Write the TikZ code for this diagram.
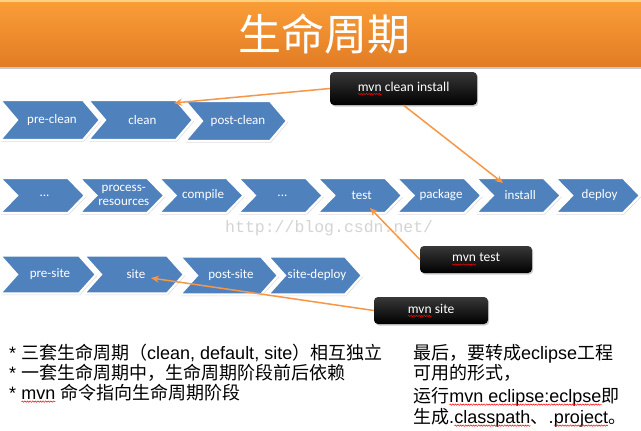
\documentclass[tikz,border=0pt]{standalone}
\usepackage{fontspec}
\setmainfont{Liberation Sans}
\newfontfamily\cjk{Noto Sans CJK SC}
\newfontfamily\calib{Carlito}
\newfontfamily\wmfont{Liberation Mono}
\usetikzlibrary{arrows.meta,shadows,decorations.pathmorphing}
\definecolor{chevblue}{HTML}{4F81BD}
\definecolor{titletop}{HTML}{FA9E38}
\definecolor{titlebot}{HTML}{E27C24}
\definecolor{titlehi}{HTML}{FFD280}
\definecolor{arrorange}{HTML}{F79646}
\newcommand\rw[1]{\tikz[baseline=(rwtxt.base),x=1pt,y=1pt]{%
  \node[inner sep=0pt,outer sep=0pt,minimum width=0pt,minimum height=0pt] (rwtxt) {#1};
  \draw[red, line width=0.5pt, solid, rounded corners=0pt, decorate,
    decoration={snake,amplitude=0.7pt,segment length=2.6pt}]
    ([yshift=-2.6pt]rwtxt.base west) -- ([yshift=-2.6pt]rwtxt.base east);}}
\tikzset{
  chevshape/.style={fill=chevblue, draw=white, line width=2.2pt, line join=miter,
    drop shadow={shadow xshift=1pt, shadow yshift=-1.5pt, opacity=0.3}},
  chevtext/.style={text=white, inner sep=0pt, align=center,
    font=\calib\fontsize{13}{13.5}\selectfont},
  callout/.style={rounded corners=4pt, top color=black!78, middle color=black, bottom color=black,
    inner sep=0pt, drop shadow={shadow xshift=1.2pt, shadow yshift=-1.5pt, opacity=0.4}},
  callouttext/.style={text=white, inner sep=0pt, font=\calib\fontsize{13.5}{14}\selectfont},
  arr/.style={draw=arrorange, line width=1.5pt, -{Stealth[length=8pt,width=7pt]}},
  btext/.style={anchor=base west, inner sep=0pt, font=\fontsize{18}{21}\selectfont}
}
\newcommand\chev[7]{%
  \path[chevshape] ({#2},{#3-#5/2}) -- ({#2+#4-#6},{#3-#5/2}) -- ({#2+#4},{#3})
    -- ({#2+#4-#6},{#3+#5/2}) -- ({#2},{#3+#5/2}) -- ({#2+#6},{#3}) -- cycle;
  \node[chevtext] (#1) at ({#2+#4/2+2},{#3}) {#7};}
\begin{document}
\begin{tikzpicture}[x=1pt,y=-1pt]
\useasboundingbox (0,0) rectangle (641,431);
\fill[white] (0,0) rectangle (641,431);
% title bar
\fill[black!22] (0,66) rectangle (641,69);
\shade[top color=titletop, bottom color=titlebot] (0,0) rectangle (641,66);
\fill[titlehi] (0,0) rectangle (641,1.5);
\node[text=white, font=\cjk\fontsize{43}{43}\selectfont] (title) at (324,34) {生命周期};
% row 1
\chev{pc}{0}{120}{100}{40}{17}{pre-clean}
\chev{cl}{88}{120}{105}{40}{17}{clean}
\chev{poc}{185}{121}{102}{40}{17}{post-clean}
% row 2
\chev{da}{0}{195.5}{85}{35}{17}{...}
\chev{pr}{79.3}{195.5}{85}{35}{17}{process-\\resources}
\chev{co}{158.6}{195.5}{85}{35}{17}{compile}
\chev{db}{237.9}{195.5}{85}{35}{17}{...}
\chev{te}{317.2}{195.5}{85}{35}{17}{test}
\chev{pa}{396.5}{195.5}{85}{35}{17}{package}
\chev{in}{475.8}{195.5}{85}{35}{17}{install}
\chev{de}{555.1}{195.5}{85}{35}{17}{deploy}
% row 3
\chev{ps}{0}{274.5}{96}{38}{17}{pre-site}
\chev{si}{84}{274.5}{100}{38}{17}{site}
\chev{pos}{180}{275.5}{98}{38}{17}{post-site}
\chev{sd}{268}{275.5}{94}{38}{17}{site-deploy}
% watermark
\node[anchor=base west, inner sep=0pt, text=black!17, font=\wmfont\fontsize{16.5}{16.5}\selectfont] (wm) at (225,232) {http://blog.csdn.net/};
% callouts
\node[callout, minimum width=147pt, minimum height=33pt] (mci) at (403.5,88.5) {};
\node[callout, minimum width=112pt, minimum height=27pt] (mt) at (476,259.5) {};
\node[callout, minimum width=114pt, minimum height=27pt] (ms) at (431,310.5) {};
\node[callouttext] (mcit) at (mci.center) {\rw{mvn} clean install};
\node[callouttext] (mtt) at (mt.center) {\rw{mvn} test};
\node[callouttext] (mst) at (ms.center) {\rw{mvn} site};
% arrow targets
\coordinate (t1) at (174,103);
\coordinate (t2) at (503,183);
\coordinate (t3) at (370,208);
\coordinate (t4) at (151,278);
\draw[arr] (mci.west) -- (t1);
\draw[arr] (mci.south) -- (t2);
\draw[arr] (mt.west) -- (t3);
\draw[arr] (ms.west) -- (t4);
% bottom text
\node[btext] (l1) at (9,359) {* {\cjk 三套生命周期（}clean, default, site{\cjk ）相互独立}};
\node[btext] (l2) at (9,379) {* {\cjk 一套生命周期中，生命周期阶段前后依赖}};
\node[btext] (l3) at (9,399) {* \rw{mvn} {\cjk 命令指向生命周期阶段}};
\node[btext] (r1) at (413,359) {{\cjk 最后，要转成}eclipse{\cjk 工程}};
\node[btext] (r2) at (413,379) {{\cjk 可用的形式，}};
\node[btext] (r3) at (413,402) {{\cjk 运行}\rw{mvn eclipse:eclpse}{\cjk 即}};
\node[btext] (r4) at (413,423) {{\cjk 生成}.\rw{classpath}{\cjk 、}.\rw{project}{\cjk 。}};
\end{tikzpicture}
\end{document}
